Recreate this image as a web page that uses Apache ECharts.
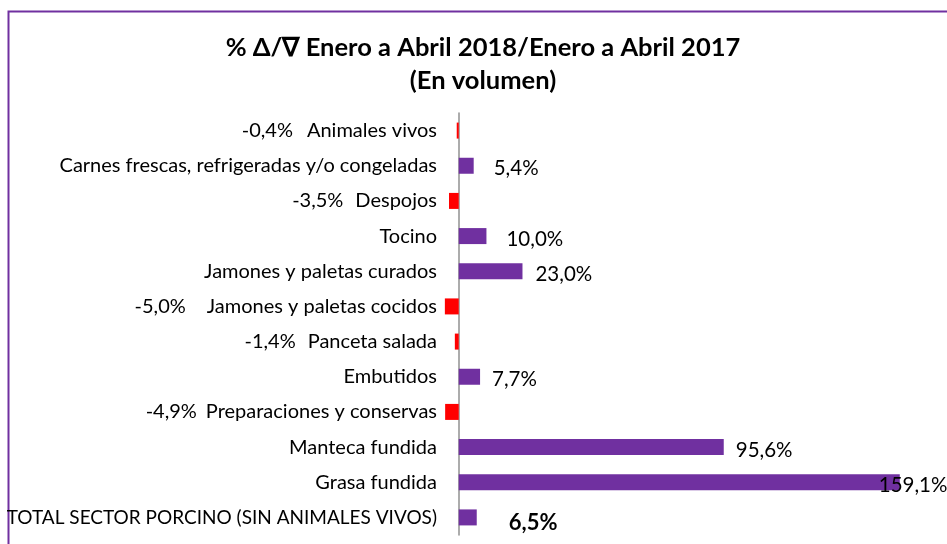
<!DOCTYPE html>
<html>
<head>
<meta charset="utf-8">
<script src="https://cdn.jsdelivr.net/npm/echarts@6/dist/echarts.min.js"></script>
<style>html,body{margin:0;padding:0;background:#fff}#c{width:947px;height:544px}</style>
</head>
<body>
<div id="c"></div>
<script>
const categories = [
  'Animales vivos',
  'Carnes frescas, refrigeradas y/o congeladas',
  'Despojos',
  'Tocino',
  'Jamones y paletas curados',
  'Jamones y paletas cocidos',
  'Panceta salada',
  'Embutidos',
  'Preparaciones y conservas',
  'Manteca fundida',
  'Grasa fundida',
  'TOTAL SECTOR PORCINO (SIN ANIMALES VIVOS)'
];
const values = [-0.4, 5.4, -3.5, 10.0, 23.0, -5.0, -1.4, 7.7, -4.9, 95.6, 159.1, 6.5];
const titleLines = ['% \u0394/\u2207 Enero a Abril 2018/Enero a Abril 2017', '(En volumen)'];

const FONT = 'Lato';
const FS = 20;
const fmt = v => v.toFixed(1).replace('.', ',') + '%';
const negGap = {0: 14, 2: 12, 5: 21, 6: 12, 8: 9};
const posDist = {1: 20, 3: 20, 4: 13, 7: 12, 9: 12, 10: -21, 11: 32};

const data = values.map((v, i) => {
  const item = {
    value: v,
    itemStyle: {color: v < 0 ? '#FF0000' : '#7030A0'}
  };
  if (v >= 0) {
    const last = i === values.length - 1;
    item.label = {
      show: true,
      position: 'right',
      distance: posDist[i] !== undefined ? posDist[i] : 12,
      offset: [0, last ? 5 : 3],
      formatter: fmt(v),
      color: '#000',
      fontFamily: FONT,
      fontSize: last ? 22 : 20.5,
      fontWeight: last ? 'bold' : 'normal'
    };
  }
  return item;
});

const rich = {
  v: {fontFamily: FONT, fontSize: FS, color: '#000'},
  c: {fontFamily: FONT, fontSize: FS, color: '#000'},
  t: {fontFamily: FONT, fontSize: 19, color: '#000'}
};
Object.keys(negGap).forEach(k => { rich['g' + k] = {width: negGap[k]}; });

const chart = echarts.init(document.getElementById('c'));
chart.setOption({
  animation: false,
  title: {
    text: titleLines.join('\n'),
    left: 478,
    top: 26,
    textAlign: 'center',
    textStyle: {fontFamily: FONT, fontSize: 25.5, fontWeight: 'bold', color: '#000', lineHeight: 33}
  },
  graphic: [{
    type: 'rect',
    shape: {x: 8.5, y: 11.5, width: 1000, height: 1000},
    style: {fill: 'none', stroke: '#7030A0', lineWidth: 2},
    silent: true
  }],
  grid: {left: 431, width: 499, top: 113, height: 422, containLabel: false, outerBoundsMode: 'none'},
  xAxis: {
    type: 'value', min: -10, max: 170, show: false
  },
  yAxis: {
    type: 'category',
    data: categories,
    inverse: true,
    axisLine: {show: true, onZero: true, lineStyle: {color: '#909090', width: 1.5}},
    axisTick: {show: false},
    axisLabel: {
      margin: -6,
      color: '#000',
      fontFamily: FONT,
      fontSize: FS,
      formatter: (name, idx) => {
        const v = values[idx];
        if (v < 0) return '{v|' + fmt(v) + '}{g' + idx + '|}{c|' + name + '}';
        if (idx === categories.length - 1) return '{t|' + name + '}';
        return name;
      },
      rich: rich
    }
  },
  series: [{
    type: 'bar',
    data: data,
    barWidth: 16,
    barMinHeight: 2
  }]
});
</script>
</body>
</html>
